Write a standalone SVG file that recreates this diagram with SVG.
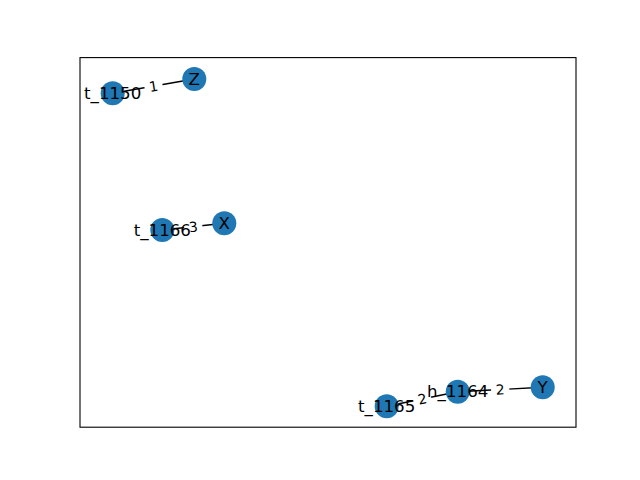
<svg xmlns="http://www.w3.org/2000/svg" width="640" height="480" viewBox="0 0 640 480">
<style>
.edge{stroke:#000;stroke-width:1.39;fill:none}
.node{fill:#1f77b4}
.nl{font-family:"DejaVu Sans",sans-serif;font-size:16.67px;fill:#000;text-anchor:middle;dominant-baseline:central}
.el{font-family:"DejaVu Sans",sans-serif;font-size:13.89px;fill:#000;text-anchor:middle;dominant-baseline:central}
.lb{fill:#fff;stroke:#fff}
</style>
<rect width="640" height="480" fill="#fff"/>
<rect x="80" y="57.6" width="496" height="369.6" fill="none" stroke="#000" stroke-width="1.1"/>
<g id="connectors">
<line class="edge" x1="112.7" y1="93.3" x2="194.3" y2="79"/>
<line class="edge" x1="162.3" y1="230" x2="224.3" y2="223.3"/>
<line class="edge" x1="457.7" y1="391.7" x2="542.7" y2="387.3"/>
<line class="edge" x1="386.7" y1="406.3" x2="457.7" y2="391.7"/>
<g transform="translate(153.5 86.2) rotate(-9.9)"><rect class="lb" x="-8.6" y="-11" width="17.2" height="22" rx="4"/><text class="el" x="0" y="0">1</text></g>
<g transform="translate(193.3 226.7) rotate(-6.2)"><rect class="lb" x="-8.6" y="-11" width="17.2" height="22" rx="4"/><text class="el" x="0" y="0">3</text></g>
<g transform="translate(500.2 389.5) rotate(-3)"><rect class="lb" x="-8.6" y="-11" width="17.2" height="22" rx="4"/><text class="el" x="0" y="0">2</text></g>
<g transform="translate(422.2 399) rotate(-11.6)"><rect class="lb" x="-8.6" y="-11" width="17.2" height="22" rx="4"/><text class="el" x="0" y="0">2</text></g>
</g>
<g id="node-Z"><circle class="node" cx="194.3" cy="79" r="12"/><text class="nl" x="194.3" y="79">Z</text></g>
<g id="node-t_1150"><circle class="node" cx="112.7" cy="93.3" r="12"/><text class="nl" x="112.7" y="93.3">t_1150</text></g>
<g id="node-X"><circle class="node" cx="224.3" cy="223.3" r="12"/><text class="nl" x="224.3" y="223.3">X</text></g>
<g id="node-t_1166"><circle class="node" cx="162.3" cy="230" r="12"/><text class="nl" x="162.3" y="230">t_1166</text></g>
<g id="node-Y"><circle class="node" cx="542.7" cy="387.3" r="12"/><text class="nl" x="542.7" y="387.3">Y</text></g>
<g id="node-h_1164"><circle class="node" cx="457.7" cy="391.7" r="12"/><text class="nl" x="457.7" y="391.7">h_1164</text></g>
<g id="node-t_1165"><circle class="node" cx="386.7" cy="406.3" r="12"/><text class="nl" x="386.7" y="406.3">t_1165</text></g>
</svg>
